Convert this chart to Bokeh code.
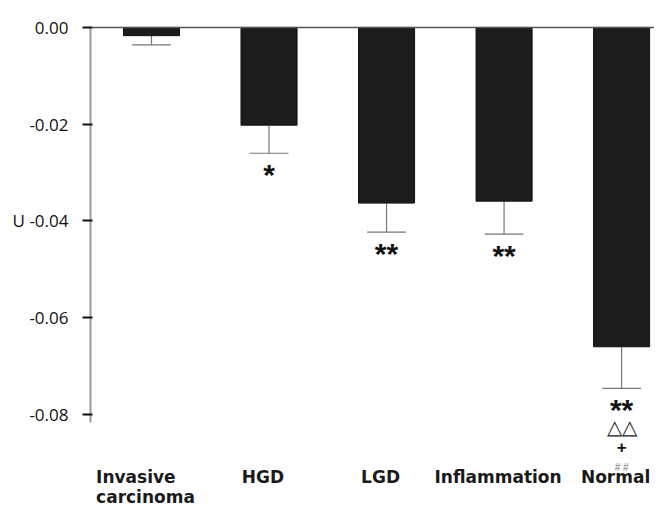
from bokeh.plotting import figure
from bokeh.models import ColumnDataSource, FixedTicker, Range1d, Span, NumeralTickFormatter, LabelSet
from bokeh.embed import file_html
from bokeh.resources import INLINE
from bokeh.core.properties import value

categories = ["Invasive\ncarcinoma", "HGD", "LGD", "Inflammation", "Normal"]
means = [-0.0017, -0.0202, -0.0363, -0.0359, -0.0660]
errors = [0.0019, 0.0058, 0.0060, 0.0068, 0.0086]
marks = [[], ["*"], ["**"], ["**"], ["**", "\u25b3\u25b3", "+", "# #"]]
y_ticks = [0.00, -0.02, -0.04, -0.06, -0.08]
y_axis_label = "U"
y_label_at = -0.04

idx = list(range(len(categories)))
lows = [m - e for m, e in zip(means, errors)]

p = figure(width=654, height=506, output_backend="svg", toolbar_location=None,
           x_range=Range1d(-0.519, 4.28), y_range=Range1d(-0.09900, 0.0004),
           x_axis_location=None,
           min_border_left=90, min_border_right=0, min_border_top=25, min_border_bottom=0)
p.outline_line_color = None
p.grid.grid_line_color = None
p.background_fill_color = "white"

src = ColumnDataSource(dict(x=idx, mean=means, low=lows,
                            cl=[i - 0.165 for i in idx], cr=[i + 0.165 for i in idx]))
p.segment(x0="x", y0="mean", x1="x", y1="low", source=src, line_color="#777777", line_width=1.2)
p.segment(x0="cl", y0="low", x1="cr", y1="low", source=src, line_color="#777777", line_width=1.2)
p.vbar(x="x", top=0, bottom="mean", width=0.477, source=src,
       fill_color="#1c1c1c", line_color="#111111", line_width=1)
p.add_layout(Span(location=0, dimension="width", line_color="#555555", line_width=1.5))

styles = {"*": (30, "#111111", "bold", 2), "**": (30, "#111111", "bold", 2),
          "\u25b3\u25b3": (20, "#222222", "normal", 0), "+": (17, "#111111", "bold", 0),
          "# #": (10, "#777777", "normal", 0)}
for i, ms in enumerate(marks):
    for k, s in enumerate(ms):
        fs, col, fw, dy = styles[s]
        ls = LabelSet(x="x", y="y", text="t",
                      source=ColumnDataSource(dict(x=[i], y=[lows[i]], t=[s])),
                      y_offset=-(19 + 20 * k + dy), text_align="center", text_baseline="middle",
                      text_font=value("Liberation Sans"), text_font_size=value(f"{fs}px"),
                      text_font_style=value(fw), text_color=value(col))
        p.add_layout(ls)

# category labels along the bottom of the plot area
cat_src = ColumnDataSource(dict(x=idx, y=[p.y_range.start] * len(idx), t=categories))
p.add_layout(LabelSet(x="x", y="y", text="t", source=cat_src,
                      x_offset=-6, y_offset=40, text_align="center", text_baseline="top",
                      text_font=value("DejaVu Sans"), text_font_style=value("bold"),
                      text_font_size=value("17px"), text_line_height=1.0,
                      text_color=value("#1a1a1a")))

ya = p.yaxis[0]
ya.ticker = FixedTicker(ticks=y_ticks)
ya.bounds = (-0.08165, 0.0)
ya.formatter = NumeralTickFormatter(format="0.00")
ya.major_label_overrides = {y_label_at: f"{y_axis_label} {y_label_at:.2f}"}
ya.major_label_text_font = "Open Sans"
ya.major_label_text_font_size = "17px"
ya.major_label_text_color = "#111111"
ya.axis_line_color = "#9a9a9a"
ya.axis_line_width = 2
ya.major_tick_line_color = "#111111"
ya.major_tick_line_width = 2
ya.major_tick_out = 8
ya.major_tick_in = 2
ya.minor_tick_line_color = None
ya.major_label_standoff = 14

open("out.html", "w").write(file_html(p, INLINE))
